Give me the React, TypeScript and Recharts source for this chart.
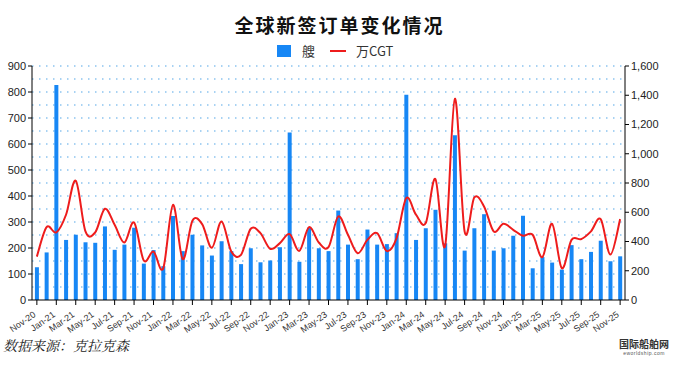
import React from 'react';
import { ComposedChart, Bar, Line, XAxis, YAxis, CartesianGrid } from 'recharts';

const months = [
  'Nov-20', 'Dec-20',
  'Jan-21', 'Feb-21', 'Mar-21', 'Apr-21', 'May-21', 'Jun-21', 'Jul-21', 'Aug-21', 'Sep-21', 'Oct-21', 'Nov-21', 'Dec-21',
  'Jan-22', 'Feb-22', 'Mar-22', 'Apr-22', 'May-22', 'Jun-22', 'Jul-22', 'Aug-22', 'Sep-22', 'Oct-22', 'Nov-22', 'Dec-22',
  'Jan-23', 'Feb-23', 'Mar-23', 'Apr-23', 'May-23', 'Jun-23', 'Jul-23', 'Aug-23', 'Sep-23', 'Oct-23', 'Nov-23', 'Dec-23',
  'Jan-24', 'Feb-24', 'Mar-24', 'Apr-24', 'May-24', 'Jun-24', 'Jul-24', 'Aug-24', 'Sep-24', 'Oct-24', 'Nov-24', 'Dec-24',
  'Jan-25', 'Feb-25', 'Mar-25', 'Apr-25', 'May-25', 'Jun-25', 'Jul-25', 'Aug-25', 'Sep-25', 'Oct-25', 'Nov-25',
];

// 艘 (left axis)
const ships = [
  126, 183,
  827, 231, 251, 222, 220, 283, 193, 213, 278, 140, 192, 130,
  323, 188, 251, 210, 171, 226, 188, 138, 199, 145, 152, 203,
  644, 147, 278, 199, 188, 344, 213, 157, 271, 213, 215, 257,
  789, 231, 276, 347, 218, 634, 190, 276, 330, 190, 199, 247,
  324, 122, 165, 144, 117, 211, 157, 185, 228, 149, 168,
];

// 万CGT (right axis)
const cgt = [
  297, 498,
  462, 583, 816, 469, 462, 624, 514, 393, 530, 270, 331, 217,
  651, 279, 542, 519, 357, 537, 331, 309, 487, 457, 350, 389,
  450, 336, 498, 393, 361, 571, 446, 320, 411, 457, 334, 423,
  697, 583, 526, 827, 370, 1376, 469, 702, 640, 469, 521, 480,
  439, 446, 293, 521, 217, 411, 416, 469, 553, 311, 553,
];

const leftTicks = [0, 100, 200, 300, 400, 500, 600, 700, 800, 900];
const rightTicks = [0, 200, 400, 600, 800, 1000, 1200, 1400, 1600];
const gridValues = [50, 100, 150, 200, 250, 300, 350, 400, 450, 500, 550, 600, 650, 700, 750, 800, 850, 900];

const data = months.map((m, i) => ({ month: m, ships: ships[i], cgt: cgt[i] }));

const FONT = '"Liberation Sans", Arial, sans-serif';
const CJK = '"Noto Sans CJK SC", sans-serif';

const MonthTick = (props: any) => {
  const { x, y, payload } = props;
  return (
    <g transform={`translate(${x - 4},${y + 4})`}>
      <text textAnchor="end" fontSize={9} fill="#333" fontFamily={FONT} transform="rotate(-35)" dy={6}>
        {payload.value}
      </text>
    </g>
  );
};

const fmt = (v: number) => v.toLocaleString('en-US');

// grid lines every 50 on the left axis, positioned through the axis scale
const gridRows = (props: any) => {
  const scale = props?.yAxis?.scale;
  if (typeof scale === 'function') return gridValues.map(v => scale(v));
  if (scale && typeof scale.map === 'function') return gridValues.map(v => scale.map(v));
  const off = props?.offset;
  if (!off) return [];
  return gridValues.map(v => off.top + off.height * (1 - v / 900));
};

// Excel-style smoothed line (Catmull-Rom through the points)
const smoothCurve = (ctx: any) => {
  let pts: number[][] = [];
  return {
    areaStart() {},
    areaEnd() {},
    lineStart() { pts = []; },
    point(x: number, y: number) { pts.push([+x, +y]); },
    lineEnd() {
      if (!pts.length) return;
      ctx.moveTo(pts[0][0], pts[0][1]);
      for (let i = 0; i < pts.length - 1; i++) {
        const p0 = pts[i - 1] || pts[i];
        const p1 = pts[i];
        const p2 = pts[i + 1];
        const p3 = pts[i + 2] || p2;
        ctx.bezierCurveTo(
          p1[0] + (p2[0] - p0[0]) / 6, p1[1] + (p2[1] - p0[1]) / 6,
          p2[0] - (p3[0] - p1[0]) / 6, p2[1] - (p3[1] - p1[1]) / 6,
          p2[0], p2[1],
        );
      }
    },
  };
};

export default function App() {
  return (
    <div style={{ position: 'absolute', left: 0, top: 0, width: 679, height: 367, background: '#fff', overflow: 'hidden' }}>
      <div style={{ position: 'absolute', left: 0, width: 679, top: 11, textAlign: 'center', fontFamily: CJK, fontWeight: 700, fontSize: 19, letterSpacing: 2, color: '#111' }}>
        全球新签订单变化情况
      </div>
      <div style={{ position: 'absolute', left: 277, top: 41, display: 'flex', alignItems: 'center', fontFamily: CJK, fontSize: 13, color: '#333' }}>
        <span style={{ display: 'inline-block', width: 14, height: 12, background: '#1787f5' }} />
        <span style={{ marginLeft: 11 }}>艘</span>
        <span style={{ display: 'inline-block', width: 16, height: 2, background: '#ee1c1c', marginLeft: 15 }} />
        <span style={{ marginLeft: 10, fontFamily: CJK }}>万CGT</span>
      </div>
      <ComposedChart
        width={679}
        height={367}
        data={data}
        margin={{ top: 66, right: 14, bottom: 30, left: 0 }}
        barCategoryGap="30%"
      >
        <CartesianGrid
          yAxisId="left"
          vertical={false}
          horizontalCoordinatesGenerator={gridRows}
          stroke="#8cc4f0"
          strokeWidth={1.5}
          strokeDasharray="1.5 5.5"
        />
        <XAxis
          dataKey="month"
          interval={1}
          tick={<MonthTick />}
          tickLine={{ stroke: '#000' }}
          axisLine={{ stroke: '#000' }}
          tickSize={5}
          height={37}
        />
        <YAxis
          yAxisId="left"
          domain={[0, 900]}
          ticks={leftTicks}
          width={32}
          tick={{ fontSize: 11, fill: '#222', fontFamily: FONT }}
          tickLine={{ stroke: '#000' }}
          axisLine={{ stroke: '#000' }}
          tickSize={4}
        />
        <YAxis
          yAxisId="right"
          orientation="right"
          domain={[0, 1600]}
          ticks={rightTicks}
          tickFormatter={fmt}
          width={40}
          tick={{ fontSize: 11, fill: '#222', fontFamily: FONT }}
          tickLine={{ stroke: '#000' }}
          axisLine={{ stroke: '#000' }}
          tickSize={4}
        />
        <Bar yAxisId="left" dataKey="ships" fill="#1787f5" isAnimationActive={false} />
        <Line
          yAxisId="right"
          dataKey="cgt"
          type={smoothCurve as any}
          stroke="#ee1c1c"
          strokeWidth={2}
          dot={false}
          isAnimationActive={false}
        />
      </ComposedChart>
      <div style={{ position: 'absolute', left: 3, top: 335, fontFamily: '"Noto Serif CJK SC", "Noto Sans CJK SC", serif', fontStyle: 'italic', fontSize: 14, color: '#222' }}>
        数据来源：克拉克森
      </div>
      <div style={{ position: 'absolute', left: 617, top: 338, width: 54, textAlign: 'center' }}>
        <div style={{ fontFamily: CJK, fontWeight: 700, fontSize: 10, lineHeight: '12px', height: 12, color: '#333' }}>国际船舶网</div>
        <div style={{ fontFamily: FONT, fontSize: 5, lineHeight: '7px', height: 7, color: '#555', letterSpacing: 0.5 }}>eworldship.com</div>
      </div>
    </div>
  );
}
